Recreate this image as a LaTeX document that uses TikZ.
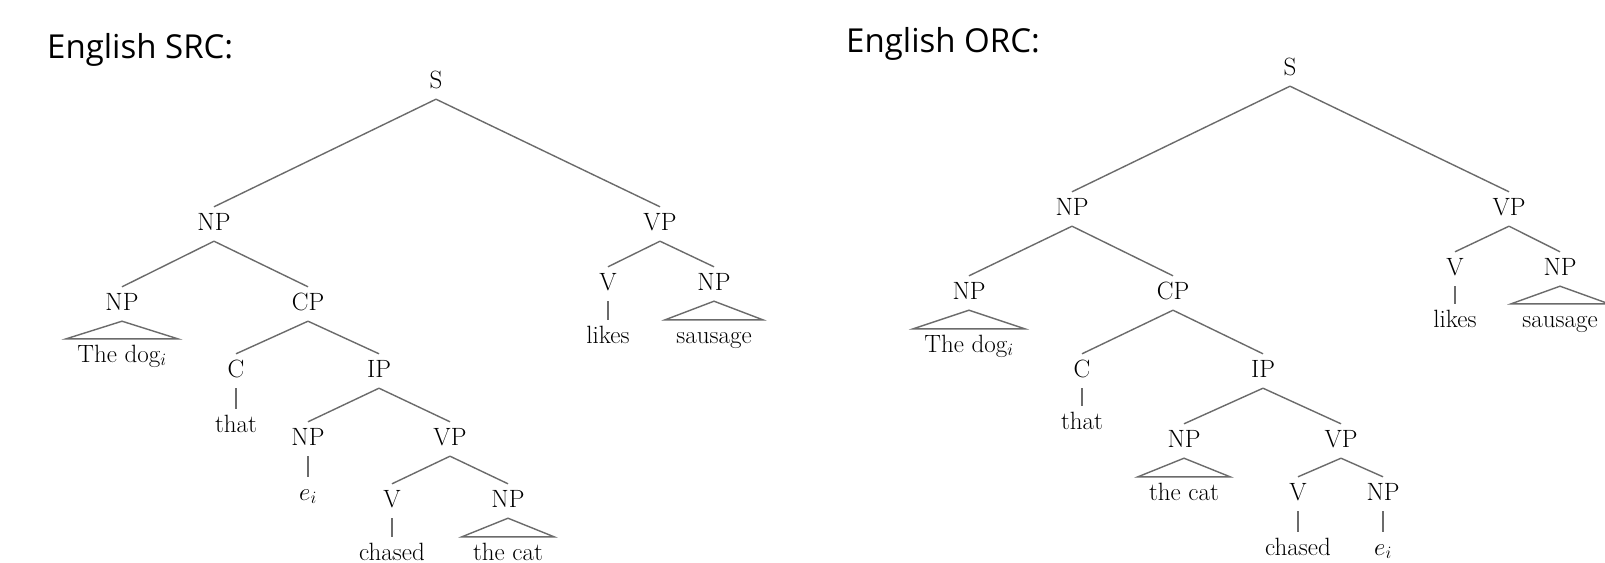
\documentclass[tikz,border=0pt]{standalone}
\usepackage{fontspec}
\newfontfamily\titlefont{Open Sans}
\begin{document}
\begin{tikzpicture}[x=1pt,y=1pt,
  cat/.style={anchor=base, font=\fontsize{25}{30}\selectfont, text=black,
    text height=17pt, text depth=5pt, inner xsep=2pt, inner ysep=6pt},
  tri/.style={cat, inner xsep=11pt},
  edge/.style={draw=black!58, line width=1.4pt},
  ttl/.style={anchor=base west, inner sep=0pt, font=\titlefont\fontsize{33}{40}\selectfont, text=black}]
\clip (0,0) rectangle (1605,-562);
\fill[white] (0,0) rectangle (1605,-562);
% titles
\node[ttl] (t1) at (47,-58) {English SRC:};
\node[ttl] (t2) at (846,-52) {English ORC:};
% ---------- left tree ----------
\node[cat] (lS) at (436,-88) {S};
\node[cat] (lNP) at (214,-230) {NP};
\node[cat] (lVP) at (660,-230) {VP};
\node[cat] (lNPa) at (122,-310) {NP};
\node[cat] (lCP) at (308,-310) {CP};
\node[tri] (lDog) at (122,-362) {The dog$_i$};
\node[cat] (lC) at (236,-377) {C};
\node[cat] (lIP) at (379,-377) {IP};
\node[cat] (lThat) at (236,-432) {that};
\node[cat] (lNPb) at (308,-445) {NP};
\node[cat] (lVPb) at (450,-445) {VP};
\node[cat] (lEi) at (308,-500) {$e_i$};
\node[cat] (lV) at (392,-507) {V};
\node[cat] (lNPc) at (508,-507) {NP};
\node[cat] (lChased) at (392,-560) {chased};
\node[tri] (lCat) at (508,-560) {the cat};
\node[cat] (lV2) at (608,-290) {V};
\node[cat] (lNP2) at (714,-290) {NP};
\node[cat] (lLikes) at (608,-343) {likes};
\node[tri] (lSaus) at (714,-343) {sausage};
\draw[edge] (lS.south) -- (lNP.north);
\draw[edge] (lS.south) -- (lVP.north);
\draw[edge] (lNP.south) -- (lNPa.north);
\draw[edge] (lNP.south) -- (lCP.north);
\draw[edge] (lNPa.south) -- (lDog.north east) -- (lDog.north west) -- cycle;
\draw[edge] (lCP.south) -- (lC.north);
\draw[edge] (lCP.south) -- (lIP.north);
\draw[edge] (lC.south) -- (lThat.north);
\draw[edge] (lIP.south) -- (lNPb.north);
\draw[edge] (lIP.south) -- (lVPb.north);
\draw[edge] (lNPb.south) -- (lEi.north);
\draw[edge] (lVPb.south) -- (lV.north);
\draw[edge] (lVPb.south) -- (lNPc.north);
\draw[edge] (lV.south) -- (lChased.north);
\draw[edge] (lNPc.south) -- (lCat.north east) -- (lCat.north west) -- cycle;
\draw[edge] (lVP.south) -- (lV2.north);
\draw[edge] (lVP.south) -- (lNP2.north);
\draw[edge] (lV2.south) -- (lLikes.north);
\draw[edge] (lNP2.south) -- (lSaus.north east) -- (lSaus.north west) -- cycle;
% ---------- right tree ----------
\node[cat] (rS) at (1290,-75) {S};
\node[cat] (rNP) at (1072,-215) {NP};
\node[cat] (rVP) at (1509,-215) {VP};
\node[cat] (rNPa) at (969,-299) {NP};
\node[cat] (rCP) at (1173,-299) {CP};
\node[tri] (rDog) at (969,-352) {The dog$_i$};
\node[cat] (rC) at (1082,-377) {C};
\node[cat] (rIP) at (1263,-377) {IP};
\node[cat] (rThat) at (1082,-429) {that};
\node[cat] (rNPb) at (1184,-447) {NP};
\node[cat] (rVPb) at (1341,-447) {VP};
\node[tri] (rCat) at (1184,-500) {the cat};
\node[cat] (rV) at (1298,-500) {V};
\node[cat] (rNPc) at (1383,-500) {NP};
\node[cat] (rChased) at (1298,-555) {chased};
\node[cat] (rEi) at (1383,-555) {$e_i$};
\node[cat] (rV2) at (1455,-275) {V};
\node[cat] (rNP2) at (1560,-275) {NP};
\node[cat] (rLikes) at (1455,-327) {likes};
\node[tri] (rSaus) at (1560,-327) {sausage};
\draw[edge] (rS.south) -- (rNP.north);
\draw[edge] (rS.south) -- (rVP.north);
\draw[edge] (rNP.south) -- (rNPa.north);
\draw[edge] (rNP.south) -- (rCP.north);
\draw[edge] (rNPa.south) -- (rDog.north east) -- (rDog.north west) -- cycle;
\draw[edge] (rCP.south) -- (rC.north);
\draw[edge] (rCP.south) -- (rIP.north);
\draw[edge] (rC.south) -- (rThat.north);
\draw[edge] (rIP.south) -- (rNPb.north);
\draw[edge] (rIP.south) -- (rVPb.north);
\draw[edge] (rNPb.south) -- (rCat.north east) -- (rCat.north west) -- cycle;
\draw[edge] (rVPb.south) -- (rV.north);
\draw[edge] (rVPb.south) -- (rNPc.north);
\draw[edge] (rV.south) -- (rChased.north);
\draw[edge] (rNPc.south) -- (rEi.north);
\draw[edge] (rVP.south) -- (rV2.north);
\draw[edge] (rVP.south) -- (rNP2.north);
\draw[edge] (rV2.south) -- (rLikes.north);
\draw[edge] (rNP2.south) -- (rSaus.north east) -- (rSaus.north west) -- cycle;
\end{tikzpicture}
\end{document}
